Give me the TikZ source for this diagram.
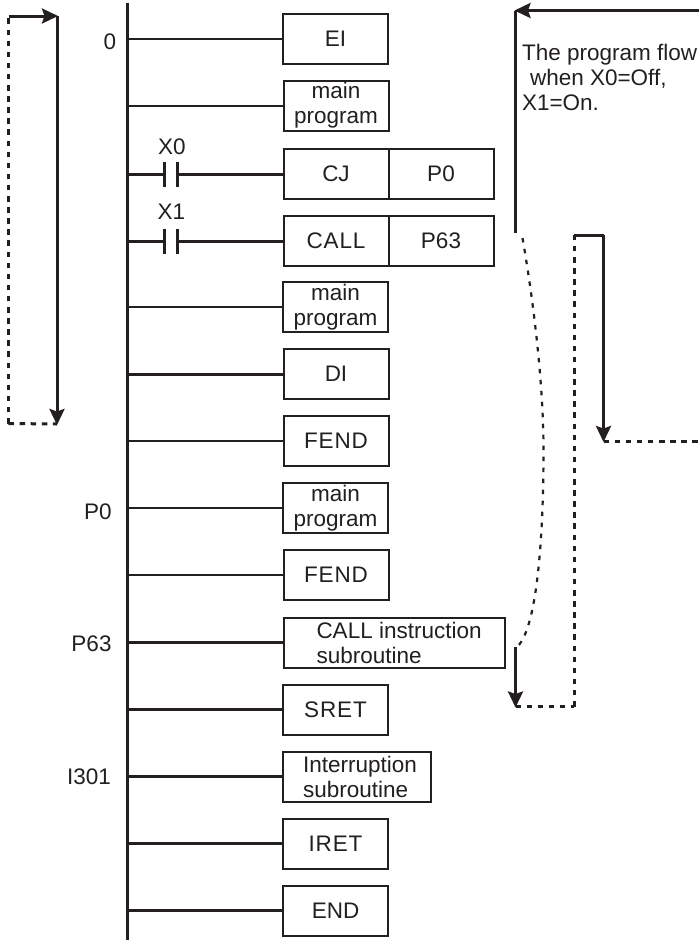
\documentclass[tikz,border=0pt]{standalone}
\usepackage{fontspec}
\setmainfont{Liberation Sans}
\newfontfamily\spacedfont[LetterSpace=4]{Liberation Sans}
\usetikzlibrary{arrows.meta,calc}
\definecolor{ink}{HTML}{231F20}
\tikzset{
  x=1pt,y=-1pt,
  every node/.style={text=ink,font=\fontsize{22.5}{25}\selectfont,inner sep=0pt,outer sep=0pt},
  lbox/.style={draw=ink,line width=2pt,anchor=north west,align=center,fill=white},
  rung/.style={draw=ink,line width=2.6pt},
  rail/.style={draw=ink,line width=3pt},
  flow/.style={draw=ink,line width=3pt},
  flowarrow/.style={flow,-{Stealth[length=16pt,width=15pt,inset=2.5pt]},shorten >=-1pt},
  dots/.style={draw=ink,line width=3pt,dash pattern=on 5.5pt off 5.6pt},
  thindots/.style={draw=ink,line width=2.2pt,dash pattern=on 4.5pt off 6.5pt},
  contact/.style={draw=ink,line width=2.7pt},
  lab/.style={anchor=center},
  note/.style={anchor=base west},
}
\newcommand{\bx}[6]{\node[lbox,minimum width=#4 pt,minimum height=#5 pt] (#1) at (#2,#3) {#6};}
\newcommand{\sptxt}[1]{{\spacedfont #1}}
\begin{document}
\begin{tikzpicture}
\useasboundingbox (0,0) rectangle (699,940);
% rail
\coordinate (railtop) at (127.5,3);
\coordinate (railbot) at (127.5,940);
\draw[rail] (railtop) -- (railbot);
% boxes
\bx{b1}{283}{13.5}{105}{50}{EI}
\bx{b2}{283.5}{80.5}{105}{50}{main\hspace{9pt}\\program}
\bx{b3}{283.5}{148.5}{105}{50}{CJ}
\bx{b3b}{388.5}{148.5}{105}{50}{P0}
\bx{b4}{283.5}{215.5}{105}{50}{\sptxt{CALL}}
\bx{b4b}{388.5}{215.5}{105}{50}{P63}
\bx{b5}{283}{282}{105}{50}{main\hspace{9pt}\\program}
\bx{b6}{283.5}{349}{105}{50}{DI}
\bx{b7}{283.5}{416}{105}{50}{\sptxt{FEND}}
\bx{b8}{283}{483}{105}{50}{main\hspace{9pt}\\program}
\bx{b9}{283.5}{550}{105}{50}{\sptxt{FEND}}
\node[lbox,minimum width=221pt,minimum height=50pt] (b10) at (283.5,617.5) {};
\node[anchor=base west] (t10a) at (316.5,638) {CALL instruction};
\node[anchor=base west] (t10b) at (316.5,663) {subroutine};
\bx{b11}{283}{684.5}{105}{50}{\sptxt{SRET}}
\node[lbox,minimum width=148pt,minimum height=50pt] (b12) at (283,751.5) {};
\node[anchor=base west] (t12a) at (303,772) {Interruption};
\node[anchor=base west] (t12b) at (303,797) {subroutine};
\bx{b13}{283}{818.5}{105}{50}{\sptxt{IRET}}
\bx{b14}{283}{885.5}{105}{50}{END}
% rungs
\foreach \n/\y in {b1/39,b2/106,b5/307,b6/374.5,b7/441,b8/508,b9/575,b10/642.5,b11/709.5,b12/776.5,b13/843.5,b14/910.5}{
  \coordinate (r\n) at (127.5,\y);
  \draw[rung] (r\n) -- (r\n -| \n.west);
}
% contacts
\foreach \n/\y in {b3/174.5,b4/241.5}{
  \coordinate (r\n) at (127.5,\y);
  \coordinate (cl\n) at (164.5,\y);
  \coordinate (cr\n) at (177.5,\y);
  \draw[rung] (r\n) -- (cl\n);
  \draw[rung] (cr\n) -- (cr\n -| \n.west);
  \draw[contact] ($(cl\n)+(0,-12.5)$) -- ($(cl\n)+(0,12.5)$);
  \draw[contact] ($(cr\n)+(0,-12.5)$) -- ($(cr\n)+(0,12.5)$);
}
% labels
\node[lab] (l0) at (110,41.5) {0};
\node[lab] (lx0) at (172,147) {X0};
\node[lab] (lx1) at (171.5,212) {X1};
\node[lab] (lp0) at (98,511.5) {P0};
\node[lab] (lp63) at (91.5,643.5) {P63};
\node[lab] (li) at (89,776.5) {I301};
\node[note] (n1) at (522,60) {The program flow};
\node[note] (n2) at (530,85) {when X0=Off,};
\node[note] (n3) at (522,110.5) {X1=On.};
% left loop
\coordinate (la) at (8.5,16);
\coordinate (lb) at (57,16);
\coordinate (lc) at (57,424);
\coordinate (ld) at (8.5,423.5);
\draw[dots] (ld) -- (lc);
\draw[dots] (ld) -- (la);
\draw[flowarrow] (la) -- (lb);
\draw[flowarrow] (lb) -- (lc);
% right flow
\coordinate (ra) at (699,10.5);
\coordinate (rb) at (515.5,10.5);
\coordinate (rc) at (515.5,233);
\coordinate (cs) at (522.5,238);
\coordinate (cm) at (543.5,450);
\coordinate (ce) at (518,646);
\coordinate (rd) at (515.5,647);
\coordinate (re) at (515.5,706.5);
\coordinate (rf) at (574,706.5);
\coordinate (rg) at (574,235);
\coordinate (rh) at (603.5,235);
\coordinate (ri) at (603.5,441);
\coordinate (rj) at (699,441);
\draw[flowarrow] (ra) -- (rb);
\draw[flow] (rb) -- (rc);
\draw[thindots] (cs) .. controls (535,310) and (543.5,390) .. (cm) .. controls (543.5,530) and (538,625) .. (ce);
\draw[dots] (re) -- (rf);
\draw[dots] (rf) -- (rg);
\draw[dots] (ri) -- (rj);
\draw[flowarrow] (rd) -- (re);
\draw[flow] (rg) -- (rh);
\draw[flowarrow] (rh) -- (ri);
\end{tikzpicture}
\end{document}
